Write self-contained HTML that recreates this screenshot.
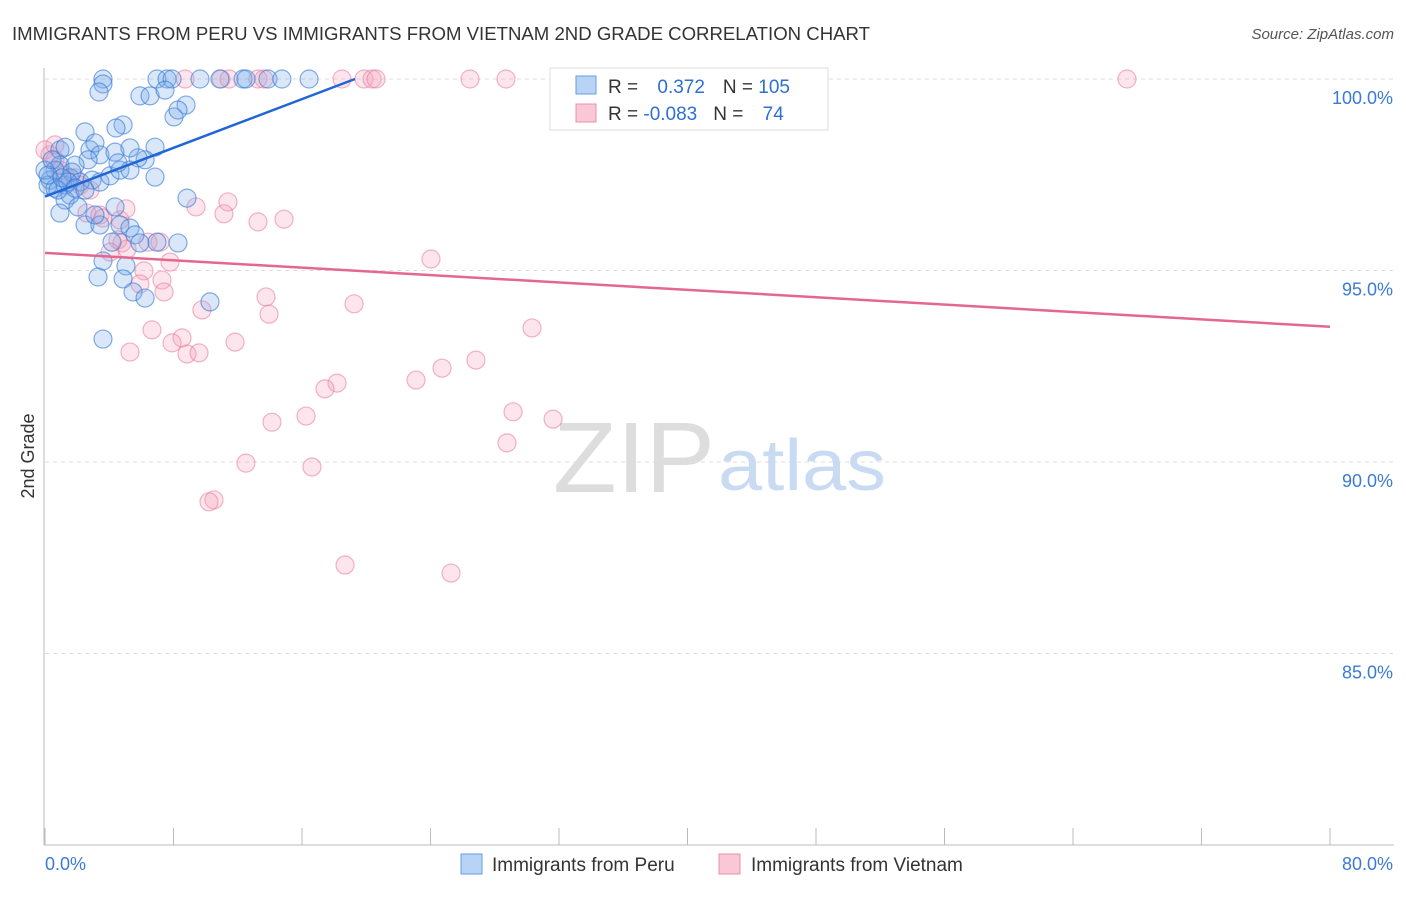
<!DOCTYPE html>
<html><head><meta charset="utf-8"><style>
body{margin:0;background:#fff;font-family:"Liberation Sans",sans-serif}
svg text{font-family:"Liberation Sans",sans-serif}
</style></head><body>
<svg id="c" width="1406" height="892" xmlns="http://www.w3.org/2000/svg">
<text x="12" y="40" font-size="18.5" fill="#333" textLength="858" lengthAdjust="spacingAndGlyphs">IMMIGRANTS FROM PERU VS IMMIGRANTS FROM VIETNAM 2ND GRADE CORRELATION CHART</text>
<text x="1394" y="39" font-size="15" fill="#555" text-anchor="end" font-style="italic">Source: ZipAtlas.com</text>
<text x="34" y="456" font-size="18" fill="#333" transform="rotate(-90 34 456)" text-anchor="middle">2nd Grade</text>
<g id="grid"></g>
<text x="553" y="492" font-size="100" fill="#ddd" font-family="Liberation Serif" textLength="162" lengthAdjust="spacingAndGlyphs">ZIP</text>
<text x="718" y="490" font-size="72" fill="#c9daf3" textLength="168" lengthAdjust="spacingAndGlyphs">atlas</text>
<g id="pts"></g>
<g id="lines"></g>
<g>
<rect x="550" y="68" width="278" height="62" fill="#fff" stroke="#ddd"/>
<rect x="576" y="76" width="20" height="18" fill="#b8d3f5" stroke="#6a9ee0"/>
<rect x="576" y="104" width="20" height="18" fill="#f9c7d6" stroke="#e890ab"/>
<text x="608" y="93" font-size="19" fill="#333">R = <tspan fill="#2d6fd6" dx="14">0.372</tspan><tspan fill="#333" dx="18">N = </tspan><tspan fill="#2d6fd6">105</tspan></text>
<text x="608" y="120" font-size="19" fill="#333">R = <tspan fill="#2d6fd6">-0.083</tspan><tspan fill="#333" dx="16">N = </tspan><tspan fill="#2d6fd6" dx="14">74</tspan></text>
</g>
<g>
<rect x="461" y="854" width="21" height="20" fill="#b8d3f5" stroke="#6a9ee0"/>
<text x="492" y="871" font-size="19" fill="#333">Immigrants from Peru</text>
<rect x="719" y="854" width="21" height="20" fill="#f9c7d6" stroke="#e890ab"/>
<text x="751" y="871" font-size="19" fill="#333">Immigrants from Vietnam</text>
</g>
</svg>
<script>
const xTicksLabels=["0.0%","80.0%"];
const yTicks=[100,95,90,85];
const yTickLabels=["100.0%","95.0%","90.0%","85.0%"];
const peruPx=[[103,79],[157,79],[167,79],[172,79],[200,79],[220,79],[243,79],[246,79],[268,79],[282,79],[309,79],[103,84],[99,92],[140,96],[150,96],[165,90],[186,105],[174,117],[178,110],[123,125],[116,128],[85,132],[155,147],[145,160],[138,158],[90,150],[95,143],[60,150],[65,147],[100,155],[88,160],[75,165],[60,165],[55,170],[50,180],[48,185],[55,188],[65,185],[70,178],[80,182],[92,180],[100,182],[110,176],[120,170],[130,170],[155,177],[70,195],[65,200],[78,207],[60,213],[85,225],[100,225],[95,215],[120,225],[130,228],[135,235],[112,242],[126,266],[103,261],[98,277],[123,279],[133,292],[145,298],[187,198],[210,302],[103,339],[45,170],[48,175],[52,160],[58,190],[72,172],[68,182],[62,178],[75,188],[85,190],[115,207],[140,243],[157,242],[178,243],[115,152],[130,148],[118,163]];
const vietPx=[[185,79],[221,79],[229,79],[258,79],[264,79],[342,79],[364,79],[372,79],[376,79],[470,79],[506,79],[739,79],[1127,79],[45,150],[50,155],[55,160],[60,170],[65,175],[75,178],[80,185],[90,190],[55,145],[87,213],[100,215],[103,218],[120,220],[126,209],[196,207],[228,202],[224,214],[258,222],[284,219],[122,243],[118,240],[148,242],[160,242],[110,252],[127,249],[144,271],[170,262],[140,284],[162,280],[164,292],[266,297],[354,304],[269,314],[202,310],[152,330],[182,338],[172,343],[187,354],[199,353],[130,352],[235,342],[431,259],[532,328],[476,360],[442,368],[416,380],[337,383],[325,389],[306,416],[272,422],[513,412],[553,419],[507,443],[246,463],[312,467],[214,500],[209,502],[345,565],[451,573]];
const toX=p=>(p-45)/16.0625, toY=p=>100-(p-79)/38.3;
const peruX=peruPx.map(p=>+toX(p[0]).toFixed(2)), peruY=peruPx.map(p=>+toY(p[1]).toFixed(2));
const vietX=vietPx.map(p=>+toX(p[0]).toFixed(2)), vietY=vietPx.map(p=>+toY(p[1]).toFixed(2));
const peruTrend=[[0,96.93],[19.3,100]];
const vietTrend=[[0,95.46],[80,93.53]];
const X=v=>45+v*16.0625, Y=v=>79+(100-v)*38.3;
const NS="http://www.w3.org/2000/svg";
function mk(tag,attrs,parent){const e=document.createElementNS(NS,tag);for(const k in attrs)e.setAttribute(k,attrs[k]);parent.appendChild(e);return e;}
const svg=document.getElementById('c'),grid=document.getElementById('grid'),pts=document.getElementById('pts'),lines=document.getElementById('lines');
yTicks.forEach((t,i)=>{
 const l=mk('line',{x1:45,x2:1394,y1:Y(t),y2:Y(t),stroke:'#ddd','stroke-dasharray':'4,4'},grid);
 
 
 const tx=mk('text',{x:1393,y:Y(t)+25,'font-size':18,fill:'#3a7bd5','text-anchor':'end'},grid);
 tx.textContent=yTickLabels[i];
 
 
});
const ax=mk('line',{x1:44,x2:44,y1:68,y2:845,stroke:'#bbb'},grid);


const bx=mk('line',{x1:44,x2:1394,y1:845,y2:845,stroke:'#bbb'},grid);


for(let i=0;i<=10;i++){
 const t=mk('line',{x1:X(i*8),x2:X(i*8),y1:828,y2:845,stroke:'#bbb'},grid);
 
 
}
const xl0=mk('text',{x:45,y:870,'font-size':18,fill:'#3a7bd5'},grid);xl0.textContent=xTicksLabels[0];


const xl1=mk('text',{x:1393,y:870,'font-size':18,fill:'#3a7bd5','text-anchor':'end'},grid);xl1.textContent=xTicksLabels[1];


vietX.forEach((x,i)=>{
 const c=mk('circle',{cx:X(x),cy:Y(vietY[i]),r:9,fill:'rgba(244,160,186,0.28)',stroke:'rgba(232,120,155,0.55)','stroke-width':1.2},pts);
 
 
});
peruX.forEach((x,i)=>{
 const c=mk('circle',{cx:X(x),cy:Y(peruY[i]),r:9,fill:'rgba(120,170,235,0.28)',stroke:'rgba(50,120,215,0.6)','stroke-width':1.2},pts);
 
 
});
const l1=mk('line',{x1:X(peruTrend[0][0]),y1:Y(peruTrend[0][1]),x2:X(peruTrend[1][0]),y2:Y(peruTrend[1][1]),stroke:'#2166d6','stroke-width':2.5},lines);


const l2=mk('line',{x1:X(vietTrend[0][0]),y1:Y(vietTrend[0][1]),x2:X(vietTrend[1][0]),y2:Y(vietTrend[1][1]),stroke:'#e4678f','stroke-width':2.5},lines);


</script>
</body></html>
